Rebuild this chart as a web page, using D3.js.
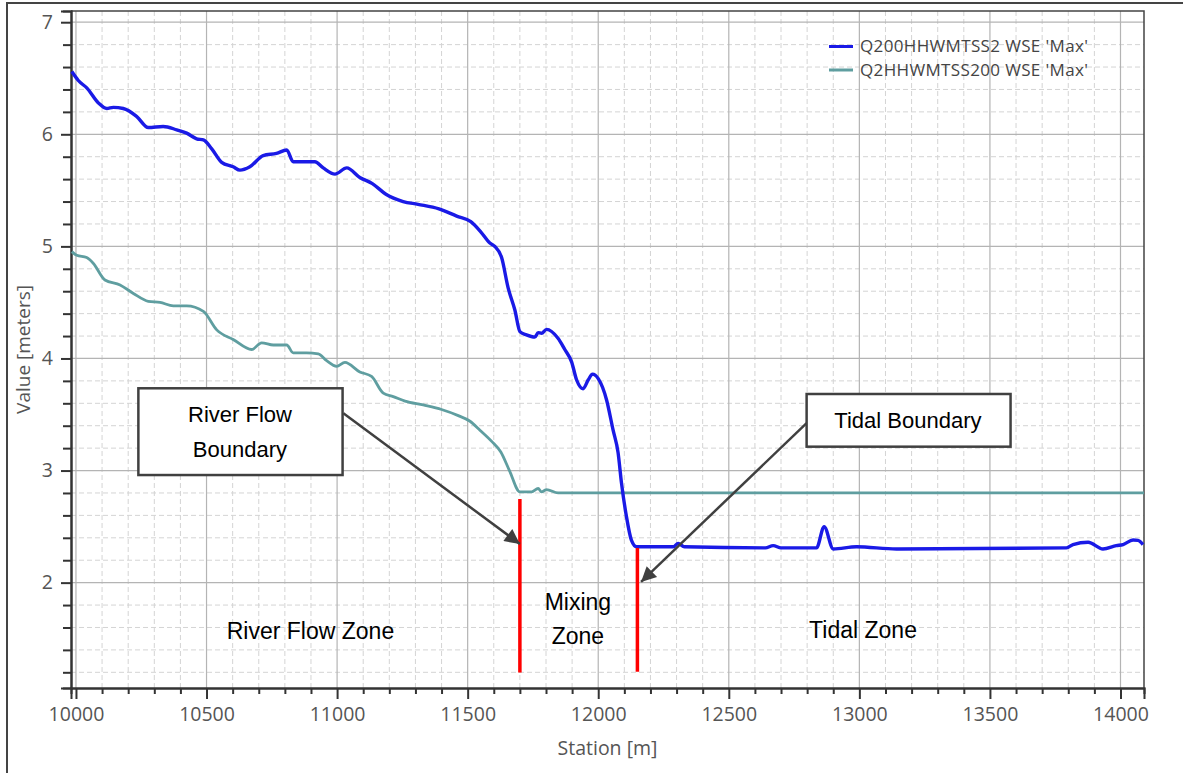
<!DOCTYPE html>
<html><head><meta charset="utf-8">
<script src="https://cdn.jsdelivr.net/npm/d3@7"></script>
<style>
html,body{margin:0;padding:0;background:#fff;}
svg{display:block;}
.tick text{font-family:"Open Sans","Noto Sans",sans-serif;}
</style></head><body>
<svg id="chart" width="1183" height="773"></svg>
<script>
// ---- data ----
const seriesNames = ["Q200HHWMTSS2 WSE 'Max'", "Q2HHWMTSS200 WSE 'Max'"];
const q200Station = [9984,10009,10043,10086,10118,10143,10181,10232,10277,10334,10386,10424,10462,10488,10520,10558,10602,10628,10666,10717,10768,10807,10832,10915,10947,10992,11037,11087,11135,11187,11253,11310,11390,11458,11512,11550,11585,11604,11630,11655,11681,11700,11725,11757,11770,11783,11802,11846,11872,11898,11917,11942,11962,11978,12000,12032,12057,12076,12089,12108,12127,12147,12287,12306,12330,12640,12670,12700,12836,12865,12900,12989,13142,13793,13818,13876,13933,13984,14010,14048,14067,14086];
const q200Value = [6.56,6.48,6.41,6.28,6.23,6.24,6.23,6.16,6.06,6.07,6.04,6.01,5.96,5.95,5.87,5.75,5.71,5.68,5.71,5.81,5.83,5.86,5.755,5.755,5.70,5.645,5.70,5.615,5.56,5.465,5.40,5.375,5.335,5.27,5.22,5.13,5.03,5.00,4.90,4.63,4.43,4.24,4.21,4.19,4.23,4.225,4.26,4.18,4.08,3.97,3.81,3.73,3.81,3.86,3.82,3.63,3.36,3.16,2.89,2.59,2.38,2.32,2.32,2.35,2.32,2.31,2.33,2.31,2.31,2.50,2.30,2.32,2.30,2.31,2.34,2.36,2.30,2.33,2.34,2.38,2.377,2.34];
const q2Station = [9984,10003,10041,10066,10111,10169,10220,10277,10322,10373,10424,10488,10539,10602,10673,10711,10756,10807,10832,10883,10928,10960,10998,11030,11087,11132,11177,11215,11260,11330,11400,11464,11509,11547,11592,11627,11660,11700,11745,11770,11783,11802,11846,14090];
const q2Value = [4.953,4.92,4.90,4.85,4.70,4.656,4.58,4.51,4.50,4.47,4.47,4.42,4.255,4.17,4.08,4.14,4.12,4.12,4.05,4.05,4.04,3.98,3.93,3.965,3.88,3.84,3.69,3.66,3.62,3.585,3.545,3.49,3.44,3.36,3.26,3.165,3.00,2.81,2.81,2.84,2.81,2.83,2.80,2.80];
const xTicks = [10000,10500,11000,11500,12000,12500,13000,13500,14000];
const yTicks = [2,3,4,5,6,7];
const boundaryStations = [11700, 12150];
const boundaryTop = [2.746, 2.309];
const boundaryBottom = [1.198, 1.205];
const zoneLabels = [
  {lines:["River Flow Zone"], st:10898, v:[1.497]},
  {lines:["Mixing","Zone"], st:11922, v:[1.756,1.453]},
  {lines:["Tidal Zone"], st:13014, v:[1.506]}
];
const callouts = [
  {lines:["River Flow","Boundary"], box:[10239,11021,3.734,2.960], tx:10628, tv:[3.436,3.124], from:[11024,3.511], to:[11700,2.345]},
  {lines:["Tidal Boundary"], box:[12798,13579,3.683,3.213], tx:13186, tv:[3.380], from:[12798,3.424], to:[12164,2.006]}
];

// ---- layout ----
const svg = d3.select("#chart");
const L=71, R=1144, T=11, B=688;
const x = d3.scaleLinear().domain([9981,14090]).range([L,R]);
const y = d3.scaleLinear().domain([1.06,7.1]).range([B,T]);

// outer frame
svg.append("path").attr("d",`M7,773 L7,3 L1183,3`).attr("fill","none").attr("stroke","#444").attr("stroke-width",2);

// grid
const minorX = d3.range(10000,14100,100).filter(d=>d%500!==0);
const minorY = d3.range(1.2,7.1,0.2).filter(d=>Math.abs(d-Math.round(d))>0.01);
const g = svg.append("g");
g.selectAll(".mx").data(minorX).join("line").attr("x1",d=>x(d)).attr("x2",d=>x(d)).attr("y1",T).attr("y2",B)
  .attr("stroke","#d4d4d4").attr("stroke-dasharray","5,3").attr("stroke-width",1);
g.selectAll(".my").data(minorY).join("line").attr("y1",d=>y(d)).attr("y2",d=>y(d)).attr("x1",L).attr("x2",R)
  .attr("stroke","#d4d4d4").attr("stroke-dasharray","5,3").attr("stroke-width",1);
g.selectAll(".Mx").data(xTicks).join("line").attr("x1",d=>x(d)).attr("x2",d=>x(d)).attr("y1",T).attr("y2",B)
  .attr("stroke","#b4b4b4").attr("stroke-width",1.2);
g.selectAll(".My").data(yTicks).join("line").attr("y1",d=>y(d)).attr("y2",d=>y(d)).attr("x1",L).attr("x2",R)
  .attr("stroke","#b4b4b4").attr("stroke-width",1.2);

// plot border top/right
svg.append("path").attr("d",`M${L},${T} L${R},${T} L${R},${B}`).attr("fill","none").attr("stroke","#444").attr("stroke-width",1.5);

// axes
const xAxisMinor = d3.axisBottom(x).tickValues(minorX).tickSize(6).tickFormat("");
const xAxis = d3.axisBottom(x).tickValues(xTicks).tickSize(11).tickPadding(8).tickFormat(d3.format("d"));
const yAxisMinor = d3.axisLeft(y).tickValues(minorY).tickSize(8).tickFormat("");
const yAxis = d3.axisLeft(y).tickValues(yTicks).tickSize(10).tickPadding(8).tickFormat(d3.format("d"));
function styleAx(sel){
  sel.select(".domain").attr("stroke","#333").attr("stroke-width",2);
  sel.selectAll(".tick line").attr("stroke","#333").attr("stroke-width",2);
  sel.selectAll(".tick text").attr("fill","#555").attr("font-size","19.5px");
}
svg.append("g").attr("transform",`translate(0,${B})`).call(xAxisMinor).call(styleAx);
svg.append("g").attr("transform",`translate(0,${B})`).call(xAxis).call(styleAx);
svg.append("g").attr("transform",`translate(${L},0)`).call(yAxisMinor).call(styleAx);
svg.append("g").attr("transform",`translate(${L},0)`).call(yAxis).call(styleAx);

// axis titles
svg.append("text").attr("x",(L+R)/2).attr("y",755).attr("text-anchor","middle")
  .attr("font-family","Open Sans, sans-serif").attr("font-size","19.5px").attr("fill","#555").text("Station [m]");
svg.append("text").attr("transform",`translate(30,${(T+B)/2}) rotate(-90)`).attr("text-anchor","middle")
  .attr("font-family","Open Sans, sans-serif").attr("font-size","19px").attr("fill","#555").text("Value [meters]");

// series
const line = d3.line().x(d=>x(d[0])).y(d=>y(d[1])).curve(d3.curveMonotoneX);
const q2 = q2Station.map((s,i)=>[s,q2Value[i]]);
const q200 = q200Station.map((s,i)=>[s,q200Value[i]]);
const colors = ["#1a1ae6","#5f9ea0"];
svg.append("path").datum(q2).attr("d",line).attr("fill","none").attr("stroke",colors[1]).attr("stroke-width",2.8);
svg.append("path").datum(q200).attr("d",line).attr("fill","none").attr("stroke",colors[0]).attr("stroke-width",3.4);

// legend
const lg = svg.append("g");
seriesNames.forEach((n,i)=>{
  const yy = 46.5 + i*23.5;
  lg.append("line").attr("x1",829).attr("x2",853).attr("y1",yy).attr("y2",yy).attr("stroke",colors[i]).attr("stroke-width",3);
  lg.append("text").attr("x",860).attr("y",yy).attr("dy","0.35em").attr("font-family","Open Sans, sans-serif")
    .attr("font-size","17px").attr("fill","#444").attr("letter-spacing","0.35px").text(n);
});

// boundaries
boundaryStations.forEach((s,i)=>{
  svg.append("line").attr("x1",x(s)).attr("x2",x(s)).attr("y1",y(boundaryTop[i])).attr("y2",y(boundaryBottom[i]))
    .attr("stroke","#ff0000").attr("stroke-width",3.5);
});

// zone labels
zoneLabels.forEach(z=>{
  z.lines.forEach((t,j)=>{
    svg.append("text").attr("x",x(z.st)).attr("y",y(z.v[j])).attr("text-anchor","middle")
      .attr("font-family","Liberation Sans, Arial, sans-serif").attr("font-size","23px").attr("fill","#000").text(t);
  });
});

// callouts
const defs = svg.append("defs");
defs.append("marker").attr("id","arr").attr("viewBox","0 0 10 10").attr("refX",10).attr("refY",5)
  .attr("markerWidth",7).attr("markerHeight",6).attr("markerUnits","strokeWidth").attr("orient","auto")
  .append("path").attr("d","M0,0 L10,5 L0,10 Z").attr("fill","#404040");
callouts.forEach(c=>{
  svg.append("line").attr("x1",x(c.from[0])).attr("y1",y(c.from[1])).attr("x2",x(c.to[0])).attr("y2",y(c.to[1]))
    .attr("stroke","#404040").attr("stroke-width",2.5).attr("marker-end","url(#arr)");
  svg.append("rect").attr("x",x(c.box[0])).attr("y",y(c.box[2])).attr("width",x(c.box[1])-x(c.box[0])).attr("height",y(c.box[3])-y(c.box[2]))
    .attr("fill","#fff").attr("stroke","#404040").attr("stroke-width",2.5);
  c.lines.forEach((t,j)=>{
    svg.append("text").attr("x",x(c.tx)).attr("y",y(c.tv[j])).attr("text-anchor","middle")
      .attr("font-family","Liberation Sans, Arial, sans-serif").attr("font-size","22px").attr("fill","#000").text(t);
  });
});
</script></body></html>
